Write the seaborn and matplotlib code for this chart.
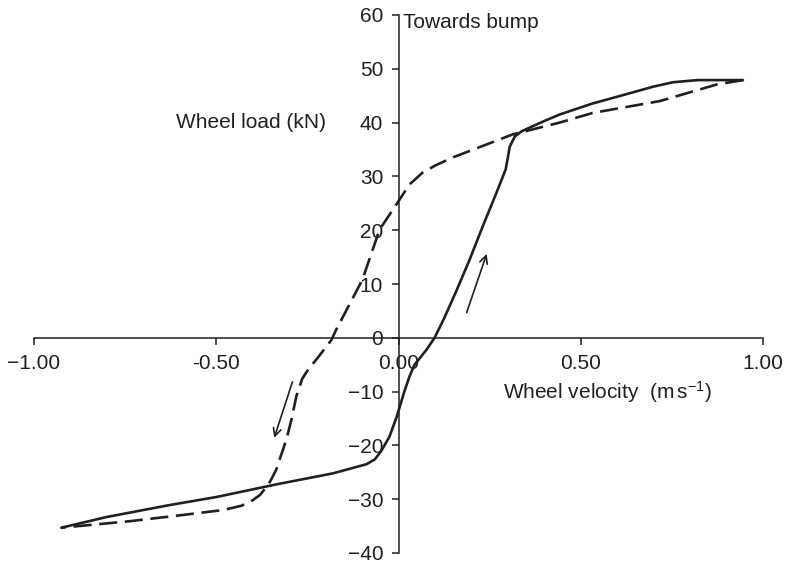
import matplotlib
matplotlib.use("Agg")
import matplotlib.pyplot as plt
import seaborn as sns
import pandas as pd

# ---- data ----
solid_x = [-0.925, -0.80, -0.629, -0.50, -0.332, -0.18, -0.088, -0.065, -0.047, -0.025,
           -0.005, 0.016, 0.03, 0.044, 0.077, 0.099, 0.125, 0.158, 0.195, 0.231, 0.269,
           0.294, 0.300, 0.305, 0.319, 0.338, 0.40, 0.442, 0.53, 0.626, 0.70, 0.753, 0.82, 0.945]
solid_y = [-35.3, -33.3, -31.1, -29.6, -27.2, -25.2, -23.5, -22.6, -21.0, -18.4,
           -14.7, -10.0, -7.2, -5.0, -2.2, 0.0, 3.6, 8.6, 14.5, 20.7, 27.0,
           31.3, 33.5, 35.5, 37.4, 38.4, 40.3, 41.5, 43.5, 45.3, 46.7, 47.5, 47.9, 47.9]

dashed_x = [0.945, 0.874, 0.717, 0.533, 0.442, 0.313, 0.148, 0.10, 0.066, 0.03, 0.003,
            -0.052, -0.099, -0.171, -0.184, -0.226, -0.245, -0.264, -0.28, -0.294,
            -0.308, -0.336, -0.356, -0.38, -0.40, -0.43, -0.48, -0.60, -0.739, -0.925]
dashed_y = [47.9, 47.1, 44.0, 41.8, 40.0, 37.8, 33.5, 32.0, 30.7, 28.5, 25.7,
            20.1, 10.8, 1.5, -0.4, -4.1, -5.6, -7.6, -10.8, -15.3,
            -19.0, -24.6, -27.2, -29.2, -30.2, -31.2, -32.0, -33.0, -34.1, -35.3]

x_ticks = [-1.0, -0.5, 0.0, 0.5, 1.0]
x_tick_labels = ["\u22121.00", "-0.50", "0.00", "0.50", "1.00"]
y_ticks = [-40, -30, -20, -10, 0, 10, 20, 30, 40, 50, 60]
y_tick_labels = ["\u221240", "\u221230", "\u221220", "\u221210", "0", "10", "20", "30", "40", "50", "60"]

up_arrow = ((0.187, 4.7), (0.242, 15.6))
down_arrow = ((-0.291, -8.2), (-0.341, -18.6))

# ---- style ----
sns.set_theme(style="white")
plt.rcParams["font.family"] = ["Liberation Sans", "DejaVu Sans"]
plt.rcParams["mathtext.fontset"] = "custom"
plt.rcParams["mathtext.rm"] = "Liberation Sans"
plt.rcParams["mathtext.it"] = "Liberation Sans:italic"
plt.rcParams["lines.scale_dashes"] = False
plt.rcParams["lines.solid_joinstyle"] = "round"
plt.rcParams["lines.dash_joinstyle"] = "round"

ink = "#231f20"
fs = 15

fig = plt.figure(figsize=(7.85, 5.63), dpi=100)
ax = fig.add_axes([34 / 785, 10 / 563, (763 - 34) / 785, (553 - 15) / 563])

solid_df = pd.DataFrame({"x": solid_x, "y": solid_y})
dashed_df = pd.DataFrame({"x": dashed_x, "y": dashed_y})

sns.lineplot(data=solid_df, x="x", y="y", sort=False, ax=ax, color=ink, lw=1.9,
             estimator=None)
sns.lineplot(data=dashed_df, x="x", y="y", sort=False, ax=ax, color=ink, lw=1.9,
             estimator=None, dashes=False, linestyle=(0, (13, 5.5)))

ax.set_xlim(-1.0, 1.0)
ax.set_ylim(-40, 60)

for s in ["top", "right"]:
    ax.spines[s].set_visible(False)
ax.spines["left"].set_position(("data", 0))
ax.spines["bottom"].set_position(("data", 0))
for s in ["left", "bottom"]:
    ax.spines[s].set_color(ink)
    ax.spines[s].set_linewidth(1.1)

ax.set_xticks(x_ticks)
ax.set_xticklabels(x_tick_labels)
ax.set_yticks(y_ticks)
ax.set_yticklabels(y_tick_labels)
ax.tick_params(axis="x", direction="out", length=5, width=1.1, color=ink,
               labelcolor=ink, labelsize=fs, pad=7, bottom=True)
ax.tick_params(axis="y", direction="out", length=5, width=1.1, color=ink,
               labelcolor=ink, labelsize=fs, pad=6, left=True)
ax.set_xlabel("")
ax.set_ylabel("")
ax.grid(False)

ax.text(0.012, 60.3, "Towards bump", fontsize=fs, color=ink, ha="left", va="top")
ax.text(-0.405, 40.0, "Wheel load (kN)", fontsize=fs, color=ink, ha="center", va="center")
ax.text(0.572, -10.0, r"Wheel velocity  (m$\,$s$^{\mathrm{-1}}$)", fontsize=fs,
        color=ink, ha="center", va="center")

for tail, head in [up_arrow, down_arrow]:
    ax.annotate("", xy=head, xytext=tail,
                arrowprops=dict(arrowstyle="->", lw=1.2, color=ink,
                                mutation_scale=14, shrinkA=0, shrinkB=0))

fig.savefig("out.png", dpi=100)
